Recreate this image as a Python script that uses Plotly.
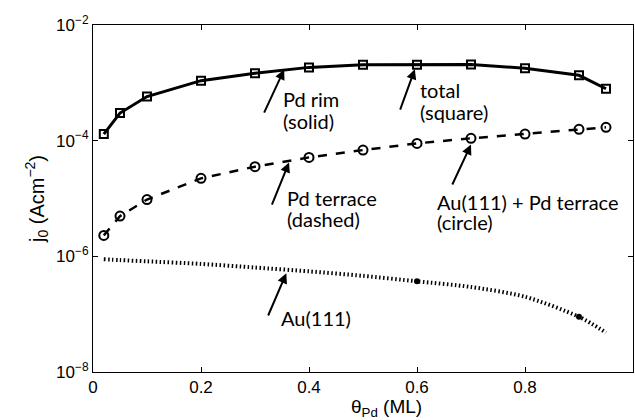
import math
import plotly.graph_objects as go

theta = [0.02, 0.05, 0.1, 0.2, 0.3, 0.4, 0.5, 0.6, 0.7, 0.8, 0.9, 0.95]
total = [1.3e-4, 3.0e-4, 5.8e-4, 1.09e-3, 1.46e-3, 1.85e-3, 2.06e-3, 2.06e-3, 2.08e-3, 1.78e-3, 1.35e-3, 7.9e-4]
circle = [2.3e-6, 4.96e-6, 9.6e-6, 2.23e-5, 3.55e-5, 5.14e-5, 6.88e-5, 8.97e-5, 1.1e-4, 1.3e-4, 1.57e-4, 1.7e-4]
au111 = [8.9e-7, 8.6e-7, 8.2e-7, 7.4e-7, 6.4e-7, 5.5e-7, 4.6e-7, 3.7e-7, 2.95e-7, 2.0e-7, 9.0e-8, 4.8e-8]
au_marked_x = [0.6, 0.9]
au_marked_y = [3.7e-7, 9.0e-8]

xticks = [0, 0.2, 0.4, 0.6, 0.8, 1]
xticktext = ["0", "0.2", "0.4", "0.6", "0.8", "1"]
yticks = [1e-8, 1e-6, 1e-4, 1e-2]
yticktext = ["10<sup>−8</sup>", "10<sup>−6</sup>", "10<sup>−4</sup>", "10<sup>−2</sup>"]

# arrows: head (x, y) and tail (x, y), in data units
arrows = [
    (0.354, 1.70e-3, 0.3165, 3.0e-4),
    (0.596, 1.72e-3, 0.5685, 3.38e-4),
    (0.363, 4.2e-5, 0.331, 7.7e-6),
    (0.700, 8.6e-5, 0.665, 1.71e-5),
    (0.358, 5.1e-7, 0.324, 9.3e-8),
]
# label lines: text, left x, centre y (data units)
notes = [
    ("Pd rim", 0.348, 5.2e-4),
    ("(solid)", 0.348, 2.18e-4),
    ("total", 0.602, 7.65e-4),
    ("(square)", 0.602, 3.13e-4),
    ("Pd terrace", 0.356, 1.02e-5),
    ("(dashed)", 0.356, 4.4e-6),
    ("Au(111) + Pd terrace", 0.633, 8.67e-6),
    ("(circle)", 0.633, 3.9e-6),
    ("Au(111)", 0.344, 8.5e-8),
]

fig = go.Figure()
fig.add_trace(go.Scatter(x=theta, y=au111, mode="lines",
                         line=dict(color="black", width=4, dash="1.5px,2.5px", shape="spline", smoothing=0.8),
                         showlegend=False))
fig.add_trace(go.Scatter(x=au_marked_x, y=au_marked_y, mode="markers",
                         marker=dict(color="black", size=6), showlegend=False))
fig.add_trace(go.Scatter(x=theta, y=circle, mode="lines+markers",
                         line=dict(color="black", width=2.5, dash="dash"),
                         marker=dict(symbol="circle-open", size=9, color="black", line=dict(width=2)),
                         showlegend=False))
fig.add_trace(go.Scatter(x=theta, y=total, mode="lines+markers",
                         line=dict(color="black", width=3),
                         marker=dict(symbol="square-open", size=8, color="black", line=dict(width=2)),
                         showlegend=False))

for hx, hy, tx, ty in arrows:
    fig.add_annotation(x=hx, y=math.log10(hy), ax=tx, ay=math.log10(ty),
                       xref="x", yref="y", axref="x", ayref="y",
                       text="", font=dict(size=1), borderpad=0,
                       showarrow=True, arrowhead=2, arrowsize=1, arrowwidth=2,
                       arrowcolor="black")

for text, x, y in notes:
    fig.add_annotation(x=x, y=math.log10(y), xref="x", yref="y", text=text, showarrow=False,
                       xanchor="left", yanchor="middle", align="left",
                       font=dict(family="Lato", size=20, color="black"))

fig.add_annotation(x=0.544, y=-0.062, xref="paper", yref="paper", yanchor="top",
                   text="θ<sub>Pd</sub> (ML)", showarrow=False,
                   font=dict(family="Liberation Sans", size=19, color="black"))

axis_common = dict(showline=True, linecolor="black", linewidth=1, mirror="ticks",
                   ticks="inside", ticklen=5, tickcolor="black", showgrid=False, zeroline=False,
                   tickfont=dict(family="Liberation Sans", size=17, color="black"))
fig.update_xaxes(range=[0, 1], tickvals=xticks, ticktext=xticktext, **axis_common)
fig.update_yaxes(type="log", range=[-8, -2], tickvals=yticks, ticktext=yticktext,
                 title=dict(text="j<sub>0</sub> (Acm<sup>−2</sup>)", standoff=6,
                            font=dict(family="Liberation Sans", size=20, color="black")),
                 **axis_common)
fig.update_layout(width=635, height=420, margin=dict(l=93, r=2, t=25, b=48),
                  plot_bgcolor="white", paper_bgcolor="white")
fig.write_html("out.html")
